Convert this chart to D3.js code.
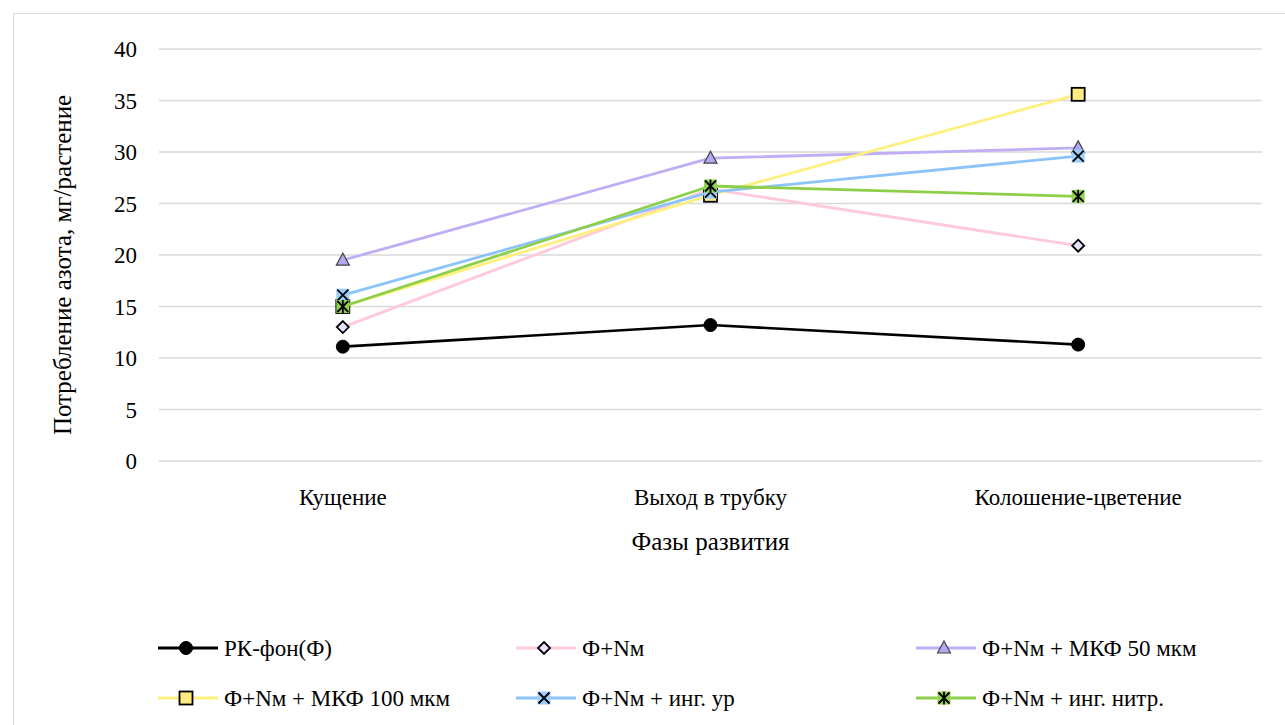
<!DOCTYPE html>
<html>
<head>
<meta charset="UTF-8">
<script src="https://d3js.org/d3.v7.min.js"></script>
</head>
<body style="margin:0">
<svg width="1285" height="725"></svg>
<script>
const phases = ["Кущение", "Выход в трубку", "Колошение-цветение"];
const yTicks = [0, 5, 10, 15, 20, 25, 30, 35, 40];

const seriesNames = ["РК-фон(Ф)", "Ф+Nм", "Ф+Nм + МКФ 50 мкм", "Ф+Nм + МКФ 100 мкм", "Ф+Nм + инг. ур", "Ф+Nм + инг. нитр."];
const rkFon = [11.1, 13.2, 11.3];
const fNm = [13.0, 26.4, 20.9];
const mkf50 = [19.5, 29.4, 30.4];
const mkf100 = [15.0, 25.8, 35.6];
const ingUr = [16.1, 26.1, 29.6];
const ingNitr = [15.0, 26.7, 25.7];

const seriesValues = [rkFon, fNm, mkf50, mkf100, ingUr, ingNitr];
const lineColors = ["#000000", "#ffc9d9", "#bfaef5", "#fff07e", "#8cc4fa", "#8ecf4a"];
const markerKinds = ["circle", "diamond", "triangle", "square", "cross", "star"];
const markerFills = ["#000000", "#e8e2ff", "#b6a7f2", "#ffec80", "#9ccdfb", "#92d050"];

const svg = d3.select("svg");
const margin = {left: 159, right: 23, top: 49, bottom: 264};
const W = 1285, H = 725;

function txt(sel, size) {
  return sel.style("font-family", "Liberation Serif, Tinos, serif").style("font-size", size + "px").attr("fill", "#000");
}

// outer frame
svg.append("rect").attr("x", 13.5).attr("y", 13.5).attr("width", W - 10).attr("height", H)
  .attr("fill", "#fff").attr("stroke", "#d9d9d9");

const x = d3.scaleBand().domain(phases).range([margin.left, W - margin.right]);
const y = d3.scaleLinear().domain([0, 40]).range([H - margin.bottom, margin.top]);

// gridlines
svg.append("g").selectAll("line").data(yTicks).join("line")
  .attr("x1", margin.left).attr("x2", W - margin.right)
  .attr("y1", d => y(d)).attr("y2", d => y(d))
  .attr("stroke", "#d9d9d9").attr("stroke-width", 1.3);

// y tick labels
yTicks.forEach(t => {
  txt(svg.append("text").attr("x", margin.left - 22).attr("y", y(t) + 8).attr("text-anchor", "end"), 23).text(t);
});

// x category labels
phases.forEach(p => {
  txt(svg.append("text").attr("x", x(p) + x.bandwidth() / 2).attr("y", y(0) + 44).attr("text-anchor", "middle"), 23).text(p);
});

// titles
txt(svg.append("text").attr("x", x(phases[1]) + x.bandwidth() / 2).attr("y", 550).attr("text-anchor", "middle"), 25)
  .text("Фазы развития");
txt(svg.append("text").attr("transform", `translate(71,${(y(0) + y(40)) / 2 + 10}) rotate(-90)`).attr("text-anchor", "middle"), 25)
  .text("Потребление азота, мг/растение");

function drawMarker(g, kind, fill, cx, cy) {
  const s = 6.5;
  if (kind === "circle") {
    g.append("circle").attr("cx", cx).attr("cy", cy).attr("r", 6.5).attr("fill", fill).attr("stroke", "#000");
  } else if (kind === "diamond") {
    g.append("path").attr("d", `M${cx},${cy - 6}L${cx + 6},${cy}L${cx},${cy + 6}L${cx - 6},${cy}Z`)
      .attr("fill", fill).attr("stroke", "#000").attr("stroke-width", 1.8);
  } else if (kind === "triangle") {
    g.append("path").attr("d", `M${cx},${cy - 7}L${cx + 6.5},${cy + 5}L${cx - 6.5},${cy + 5}Z`)
      .attr("fill", fill).attr("stroke", "#444").attr("stroke-width", 1.2);
  } else if (kind === "square") {
    g.append("rect").attr("x", cx - s).attr("y", cy - s).attr("width", 2 * s).attr("height", 2 * s)
      .attr("fill", fill).attr("stroke", "#000").attr("stroke-width", 1.8);
  } else {
    g.append("rect").attr("x", cx - s).attr("y", cy - s).attr("width", 2 * s).attr("height", 2 * s).attr("fill", fill);
    g.append("path").attr("d", `M${cx - 5.5},${cy - 5.5}L${cx + 5.5},${cy + 5.5}M${cx + 5.5},${cy - 5.5}L${cx - 5.5},${cy + 5.5}`)
      .attr("stroke", "#000").attr("stroke-width", 1.8);
    if (kind === "star") {
      g.append("path").attr("d", `M${cx},${cy - 6.5}L${cx},${cy + 6.5}`).attr("stroke", "#000").attr("stroke-width", 1.8);
    }
  }
}

const line = d3.line().x((d, i) => x(phases[i]) + x.bandwidth() / 2).y(d => y(d));

seriesValues.forEach((vals, k) => {
  const g = svg.append("g");
  g.append("path").datum(vals).attr("d", line).attr("fill", "none")
    .attr("stroke", lineColors[k]).attr("stroke-width", k === 0 ? 2.6 : 2.8).attr("stroke-linejoin", "round");
  vals.forEach((v, i) => drawMarker(g, markerKinds[k], markerFills[k], x(phases[i]) + x.bandwidth() / 2, y(v)));
});

// legend
const legX = [158, 516, 916], legY = [648, 698];
seriesNames.forEach((name, k) => {
  const lx = legX[k % 3], ly = legY[Math.floor(k / 3)];
  const g = svg.append("g");
  g.append("line").attr("x1", lx).attr("x2", lx + 60).attr("y1", ly).attr("y2", ly)
    .attr("stroke", lineColors[k]).attr("stroke-width", 2.8);
  drawMarker(g, markerKinds[k], markerFills[k], lx + 28, ly);
  txt(g.append("text").attr("x", lx + 66).attr("y", ly + 8), 23).text(name);
});
</script>
</body>
</html>
